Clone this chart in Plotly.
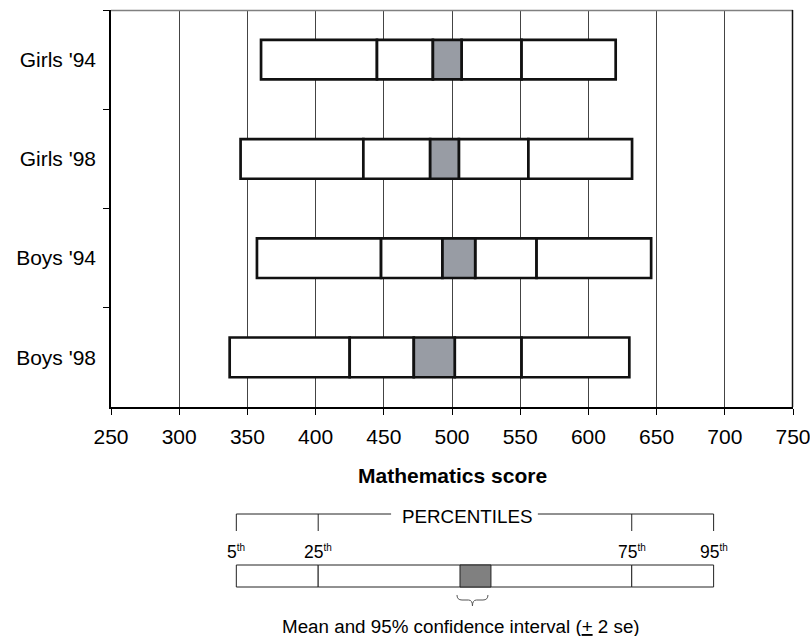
import plotly.graph_objects as go

# Mathematics score distributions by group (percentiles and 95% CI of the mean)
groups = ["Girls '94", "Girls '98", "Boys '94", "Boys '98"]
p5 = [360, 345, 357, 337]
p25 = [445, 435, 448, 425]
ci_low = [486, 484, 493, 472]
ci_high = [507, 505, 517, 502]
p75 = [551, 556, 562, 551]
p95 = [620, 632, 646, 630]

x_ticks = list(range(250, 751, 50))

# Key diagram: percentile names and their positions along the key bar (pixels)
key_names = ["5", "25", "75", "95"]
key_pos = [236, 318, 632, 714]
key_ci = [460, 491]

FONT = "Liberation Sans, Arial, sans-serif"
BAR_LINE = dict(color="#111111", width=2.7)
CI_FILL = "#989ca4"

# plot area in pixels
W, H = 810, 636
PL, PR, PT, PB = 110.5, 793.5, 10, 407


def fx(x):
    return (x - PL) / (PR - PL)


def fy(y):
    return (PB - y) / (PB - PT)


fig = go.Figure()

segments = [
    (p5, p25, "white"),
    (p25, ci_low, "white"),
    (ci_high, p75, "white"),
    (p75, p95, "white"),
    (ci_low, ci_high, CI_FILL),
]
for start, end, fill in segments:
    fig.add_trace(go.Bar(
        y=groups,
        base=start,
        x=[e - s for s, e in zip(start, end)],
        orientation="h",
        width=0.4,
        marker=dict(color=fill, line=BAR_LINE),
        showlegend=False,
        hoverinfo="skip",
    ))

shapes = []
# top and right frame lines
shapes.append(dict(type="line", xref="paper", yref="paper", x0=0, x1=1, y0=fy(10.5), y1=fy(10.5),
                   line=dict(color="#808080", width=1.5)))
shapes.append(dict(type="line", xref="paper", yref="paper", x0=fx(793), x1=fx(793), y0=0, y1=fy(10),
                   line=dict(color="#111111", width=1.5)))

# key: bracket above the bar
BR_Y, BR_Y2 = 514, 531
gap_l, gap_r = 391, 538
shapes.append(dict(type="line", xref="paper", yref="paper",
                   x0=fx(key_pos[0]), x1=fx(gap_l), y0=fy(BR_Y), y1=fy(BR_Y),
                   line=dict(color="#222222", width=1)))
shapes.append(dict(type="line", xref="paper", yref="paper",
                   x0=fx(gap_r), x1=fx(key_pos[-1]), y0=fy(BR_Y), y1=fy(BR_Y),
                   line=dict(color="#222222", width=1)))
for p in key_pos:
    shapes.append(dict(type="line", xref="paper", yref="paper",
                       x0=fx(p), x1=fx(p), y0=fy(BR_Y), y1=fy(BR_Y2),
                       line=dict(color="#222222", width=1)))

# key: bar
KB_T, KB_B = 565, 587
for a, b in [(key_pos[0], key_pos[1]), (key_pos[1], key_pos[2]), (key_pos[2], key_pos[3])]:
    shapes.append(dict(type="rect", xref="paper", yref="paper",
                       x0=fx(a), x1=fx(b), y0=fy(KB_B), y1=fy(KB_T),
                       fillcolor="white", line=dict(color="#222222", width=1)))
shapes.append(dict(type="rect", xref="paper", yref="paper",
                   x0=fx(key_ci[0]), x1=fx(key_ci[1]), y0=fy(KB_B), y1=fy(KB_T),
                   fillcolor="#808080", line=dict(color="#222222", width=1)))

# key: small underbrace below the mean box
bl, br_ = key_ci[0] - 3, key_ci[1] - 3
bm = (bl + br_) / 2
pts = [
    ("M", bl, 595), ("Q", bl, 600, bl + 5, 600), ("L", bm - 4, 600),
    ("Q", bm, 600, bm, 606), ("Q", bm, 600, bm + 4, 600), ("L", br_ - 5, 600),
    ("Q", br_, 600, br_, 595),
]
path = ""
for item in pts:
    cmd, coords = item[0], item[1:]
    xy = []
    for i in range(0, len(coords), 2):
        xy.append(f"{fx(coords[i]):.5f},{fy(coords[i + 1]):.5f}")
    path += cmd + " " + " ".join(xy) + " "
shapes.append(dict(type="path", xref="paper", yref="paper", path=path.strip(),
                   line=dict(color="#555555", width=1)))


def note(text, x, y, size, bold=False):
    return dict(text=f"<b>{text}</b>" if bold else text, xref="paper", yref="paper",
                x=fx(x), y=fy(y), xanchor="center", yanchor="middle", showarrow=False,
                font=dict(family=FONT, size=size, color="black"))


annotations = [
    note("Mathematics score", (PL + PR) / 2, 476, 21, bold=True),
    note("PERCENTILES", 467, 516, 18.8),
    note("Mean and 95% confidence interval (<u>+</u> 2 se)", 461, 626, 18.8),
]
for name, p in zip(key_names, key_pos):
    annotations.append(note(
        f"{name}<sup><span style='font-size:10px'>th</span></sup>", p, 552, 17.5))

fig.update_layout(
    width=W, height=H,
    margin=dict(l=PL, r=W - PR, t=PT, b=H - PB, autoexpand=False),
    paper_bgcolor="white", plot_bgcolor="white",
    barmode="overlay",
    font=dict(family=FONT, size=21, color="black"),
    shapes=shapes,
    annotations=annotations,
    xaxis=dict(
        range=[250, 750], tickvals=x_ticks, ticktext=[str(v) for v in x_ticks],
        showgrid=True, gridcolor="#444444", gridwidth=1,
        showline=True, linecolor="black", linewidth=1.5,
        ticks="outside", ticklen=6, tickcolor="black",
        zeroline=False, tickfont=dict(size=21), ticklabelstandoff=4,
        ticklabeloverflow="allow",
    ),
    yaxis=dict(
        type="category", categoryorder="array", categoryarray=groups,
        autorange="reversed",
        showgrid=False, showline=True, linecolor="black", linewidth=1.5,
        ticks="outside", ticklen=6, tickcolor="black", tickson="boundaries",
        ticklabelstandoff=9, tickfont=dict(size=21),
    ),
)

fig.write_html("out.html")
